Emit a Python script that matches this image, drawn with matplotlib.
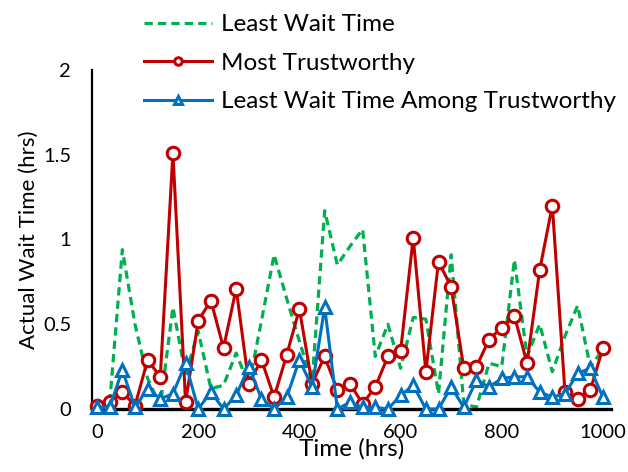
import numpy as np
import matplotlib
matplotlib.use("Agg")
import matplotlib.pyplot as plt

plt.rcParams['font.family'] = ['Lato', 'DejaVu Sans']

hours = list(range(0, 1001, 25))

least_wait = [0.01, 0.04, 0.94, 0.50, 0.18, 0.02, 0.60, 0.20, 0.46, 0.12,
              0.14, 0.33, 0.14, 0.52, 0.91, 0.65, 0.40, 0.16, 1.17, 0.85,
              0.96, 1.06, 0.31, 0.50, 0.24, 0.54, 0.53, 0.09, 0.91, 0.03,
              0.01, 0.27, 0.25, 0.88, 0.31, 0.50, 0.22, 0.43, 0.61, 0.25,
              0.35]
most_trust = [0.02, 0.04, 0.10, 0.02, 0.29, 0.19, 1.51, 0.04, 0.52, 0.64,
              0.36, 0.71, 0.15, 0.29, 0.07, 0.32, 0.59, 0.15, 0.31, 0.11,
              0.15, 0.03, 0.13, 0.31, 0.34, 1.01, 0.22, 0.87, 0.72, 0.24,
              0.25, 0.41, 0.48, 0.55, 0.27, 0.82, 1.20, 0.10, 0.06, 0.11,
              0.36]
least_among_trust = [0.01, 0.01, 0.23, 0.01, 0.12, 0.06, 0.09, 0.27, 0.00, 0.10,
                     0.00, 0.08, 0.25, 0.06, 0.00, 0.07, 0.29, 0.13, 0.60, 0.00,
                     0.04, 0.01, 0.01, 0.00, 0.08, 0.14, 0.00, 0.00, 0.13, 0.01,
                     0.17, 0.13, 0.18, 0.19, 0.19, 0.10, 0.07, 0.09, 0.21, 0.24,
                     0.07]

fig = plt.figure(figsize=(6.28, 4.72), dpi=100)
ax = fig.add_axes([92 / 628, 1 - 409 / 472, (611 - 92) / 628, (409 - 70) / 472])

ax.plot(hours, least_wait, color='#00B050', lw=2.3, ls=(0, (2.6, 1.6)),
        label='Least Wait Time', clip_on=False, zorder=2)
ax.plot(hours, most_trust, color='#C00000', lw=2.2, marker='o', ms=9,
        mfc='white', mew=2.2, label='Most Trustworthy', clip_on=False, zorder=3)
ax.plot(hours, least_among_trust, color='#0070C0', lw=2.2, marker='^', ms=9,
        mfc='white', mew=2.2, label='Least Wait Time Among Trustworthy',
        clip_on=False, zorder=4)

ax.set_xlim(-10, 1016)
ax.set_ylim(0, 2)
ax.set_xticks([0, 200, 400, 600, 800, 1000])
ax.set_yticks([0, 0.5, 1, 1.5, 2])
ax.set_yticklabels(['0', '0.5', '1', '1.5', '2'])
ax.tick_params(length=0, labelsize=14.5, pad=11)
ax.tick_params(axis='y', pad=15)

for s in ['top', 'right']:
    ax.spines[s].set_visible(False)
ax.spines['left'].set_linewidth(1.6)
ax.spines['bottom'].set_linewidth(2.4)

ax.set_xlabel('Time (hrs)', fontsize=17.5, labelpad=-2)
ax.set_ylabel('Actual Wait Time (hrs)', fontsize=16, labelpad=3)

fig.legend(loc='upper left', bbox_to_anchor=(144 / 628, 1 - 14 / 472),
           frameon=False, fontsize=17.5, handlelength=2.8, handletextpad=0.36,
           labelspacing=0.72, borderpad=0, borderaxespad=0, markerscale=0.6)

fig.savefig('out.png', dpi=100)
